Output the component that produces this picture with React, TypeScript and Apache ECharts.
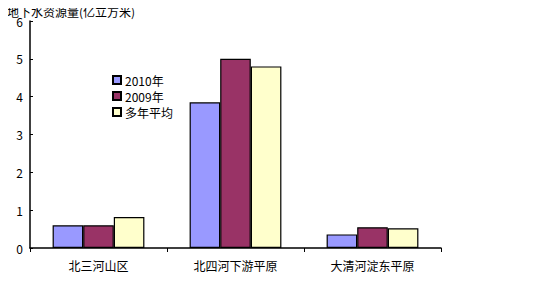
import React, { useEffect, useRef } from "react";
import * as echarts from "echarts";

const categories = ["北三河山区", "北四河下游平原", "大清河淀东平原"];
const seriesNames = ["2010年", "2009年", "多年平均"];
const values2010 = [0.6, 3.85, 0.36];
const values2009 = [0.6, 5.0, 0.55];
const valuesAvg = [0.82, 4.8, 0.52];
const colors = ["#9999FF", "#993366", "#FFFFCC"];
const yTicks = [0, 1, 2, 3, 4, 5, 6];

const FONT = "'Noto Sans CJK SC', sans-serif";

export default function App() {
  const ref = useRef<HTMLDivElement>(null);
  useEffect(() => {
    if (!ref.current) return;
    const chart = echarts.init(ref.current, undefined, { renderer: "svg" });
    const data = [values2010, values2009, valuesAvg];
    chart.setOption({
      animation: false,
      backgroundColor: "#ffffff",
      title: {
        text: "地下水资源量(亿立方米)",
        left: 7,
        top: 5,
        textStyle: { fontSize: 12, fontWeight: "normal", color: "#000", fontFamily: FONT },
        padding: 0,
      },
      legend: {
        orient: "vertical",
        left: 112,
        top: 74,
        itemWidth: 8,
        itemHeight: 8,
        itemGap: 4,
        icon: "rect",
        padding: 0,
        textStyle: { fontSize: 12, color: "#000", fontFamily: FONT, padding: [0, 0, 0, -1] },
        data: seriesNames,
      },
      grid: { left: 30, top: 21, right: 112, bottom: 58, containLabel: false },
      xAxis: {
        type: "category",
        data: categories,
        axisLine: { lineStyle: { color: "#000", width: 1.5 } },
        axisTick: { show: true, length: 4, lineStyle: { color: "#000" }, alignWithLabel: false },
        axisLabel: { color: "#000", fontSize: 12, fontFamily: FONT, margin: 11 },
      },
      yAxis: {
        type: "value",
        min: 0,
        max: 6,
        interval: 1,
        splitLine: { show: false },
        axisLine: { show: true, lineStyle: { color: "#000", width: 1.5 } },
        axisTick: { show: true, inside: true, length: 3, lineStyle: { color: "#000" } },
        axisLabel: {
          color: "#000",
          fontSize: 12,
          fontFamily: FONT,
          margin: 7,
          formatter: (v: number) => (yTicks.includes(v) ? String(v) : ""),
        },
      },
      series: seriesNames.map((name, i) => ({
        name,
        type: "bar",
        data: data[i],
        barGap: "0%",
        barCategoryGap: "33%",
        itemStyle: { color: colors[i], borderColor: "#000", borderWidth: 1.2 },
      })),
    });
    return () => chart.dispose();
  }, []);
  return <div ref={ref} style={{ width: 553, height: 306, margin: -8 }} />;
}
